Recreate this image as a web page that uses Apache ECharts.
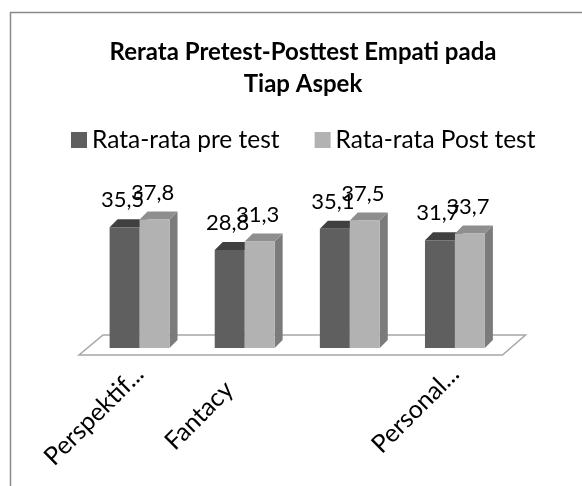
<!DOCTYPE html>
<html>
<head>
<meta charset="utf-8">
<script src="https://cdn.jsdelivr.net/npm/echarts@6/dist/echarts.min.js"></script>
<style>
  html, body { margin: 0; padding: 0; background: #fff; }
  #main { width: 582px; height: 486px; }
</style>
</head>
<body>
<div id="main"></div>
<script>
var categories = ['Perspektif...', 'Fantacy', '', 'Personal...'];
var preTest = [35.5, 28.8, 35.1, 31.7];
var postTest = [37.8, 31.3, 37.5, 33.7];
var seriesNames = ['Rata-rata pre test', 'Rata-rata Post test'];

var FONT = 'Lato';
var DEPTH = 8;
// front / side / top shades for each series
var shades = [
    {front: '#5f5f5f', side: '#4a4a4a', top: '#404040'},
    {front: '#b2b2b2', side: '#7b7b7b', top: '#8e8e8e'}
];
// excel pushes the slanted "Fantacy" label back a bit
var labelBack = [0, 22, 0, 0];

var chart = echarts.init(document.getElementById('main'));

function barRenderer(s) {
    return function (params, api) {
        var idx = api.value(0);
        var val = api.value(1);
        var topPt = api.coord([idx, val]);
        var basePt = api.coord([idx, 0]);
        var bw = api.size([1, 0])[0] * 0.285;
        var x0 = s === 0 ? topPt[0] - bw : topPt[0];
        var x1 = x0 + bw;
        var top = topPt[1], bot = basePt[1];
        var d = DEPTH;
        var c = shades[s];
        return {
            type: 'group',
            children: [
                {type: 'polygon', shape: {points: [[x1, top], [x1 + d, top - d], [x1 + d, bot - d], [x1, bot]]},
                    style: {fill: c.side}},
                {type: 'polygon', shape: {points: [[x0, top], [x0 + d, top - d], [x1 + d, top - d], [x1, top]]},
                    style: {fill: c.top}},
                {type: 'rect', shape: {x: x0, y: top, width: bw, height: bot - top},
                    style: {fill: c.front}},
                {type: 'text', x: x0 + bw / 2 - 2, y: top - 27, z2: 10,
                    style: {text: String(val).replace('.', ','), fill: '#000', font: '22px ' + FONT,
                        align: 'center', verticalAlign: 'middle'}}
            ]
        };
    };
}

function floorRenderer(params, api) {
    var cs = params.coordSys;
    var l = cs.x, r = cs.x + cs.width, b = cs.y + cs.height;
    return {
        type: 'polygon',
        shape: {points: [[l - 8, b + 7], [r - 5, b + 7], [r + 18, b - 13], [l + 16, b - 13]]},
        style: {fill: '#fff', stroke: '#a6a6a6', lineWidth: 1.5}
    };
}

var option = {
    animation: false,
    graphic: [{
        type: 'rect', left: 8, top: 10,
        shape: {width: 600, height: 500},
        style: {fill: 'none', stroke: '#8a8a8a', lineWidth: 1.5}
    }],
    title: {
        text: 'Rerata Pretest-Posttest Empati pada\nTiap Aspek',
        left: 298,
        top: 31,
        textAlign: 'center',
        textStyle: {fontFamily: FONT, fontSize: 24, fontWeight: 'bold', color: '#000', lineHeight: 32}
    },
    legend: {
        top: 120,
        left: 66,
        itemWidth: 16,
        itemHeight: 16,
        itemGap: 35,
        icon: 'rect',
        textStyle: {fontFamily: FONT, fontSize: 24.5, color: '#000', lineHeight: 30},
        data: seriesNames
    },
    grid: {left: 87, right: 74.5, top: 212, bottom: 138},
    xAxis: {
        type: 'category',
        data: categories.map(function (c, i) {
            return {value: c, textStyle: {padding: [10, labelBack[i], 0, 0]}};
        }),
        axisLine: {show: false},
        axisTick: {show: false},
        axisLabel: {rotate: 45, margin: 22, interval: 0,
            fontFamily: FONT, fontSize: 25, color: '#000'}
    },
    yAxis: {type: 'value', min: 0, max: 40, show: false},
    series: [
        {type: 'custom', name: 'floor', renderItem: floorRenderer, data: [[0, 0]], z: 1, silent: true},
        {type: 'custom', name: seriesNames[0], renderItem: barRenderer(0), z: 2,
            itemStyle: {color: shades[0].front},
            data: preTest.map(function (v, i) { return [i, v]; })},
        {type: 'custom', name: seriesNames[1], renderItem: barRenderer(1), z: 3,
            itemStyle: {color: shades[1].front},
            data: postTest.map(function (v, i) { return [i, v]; })}
    ]
};

chart.setOption(option);
</script>
</body>
</html>
